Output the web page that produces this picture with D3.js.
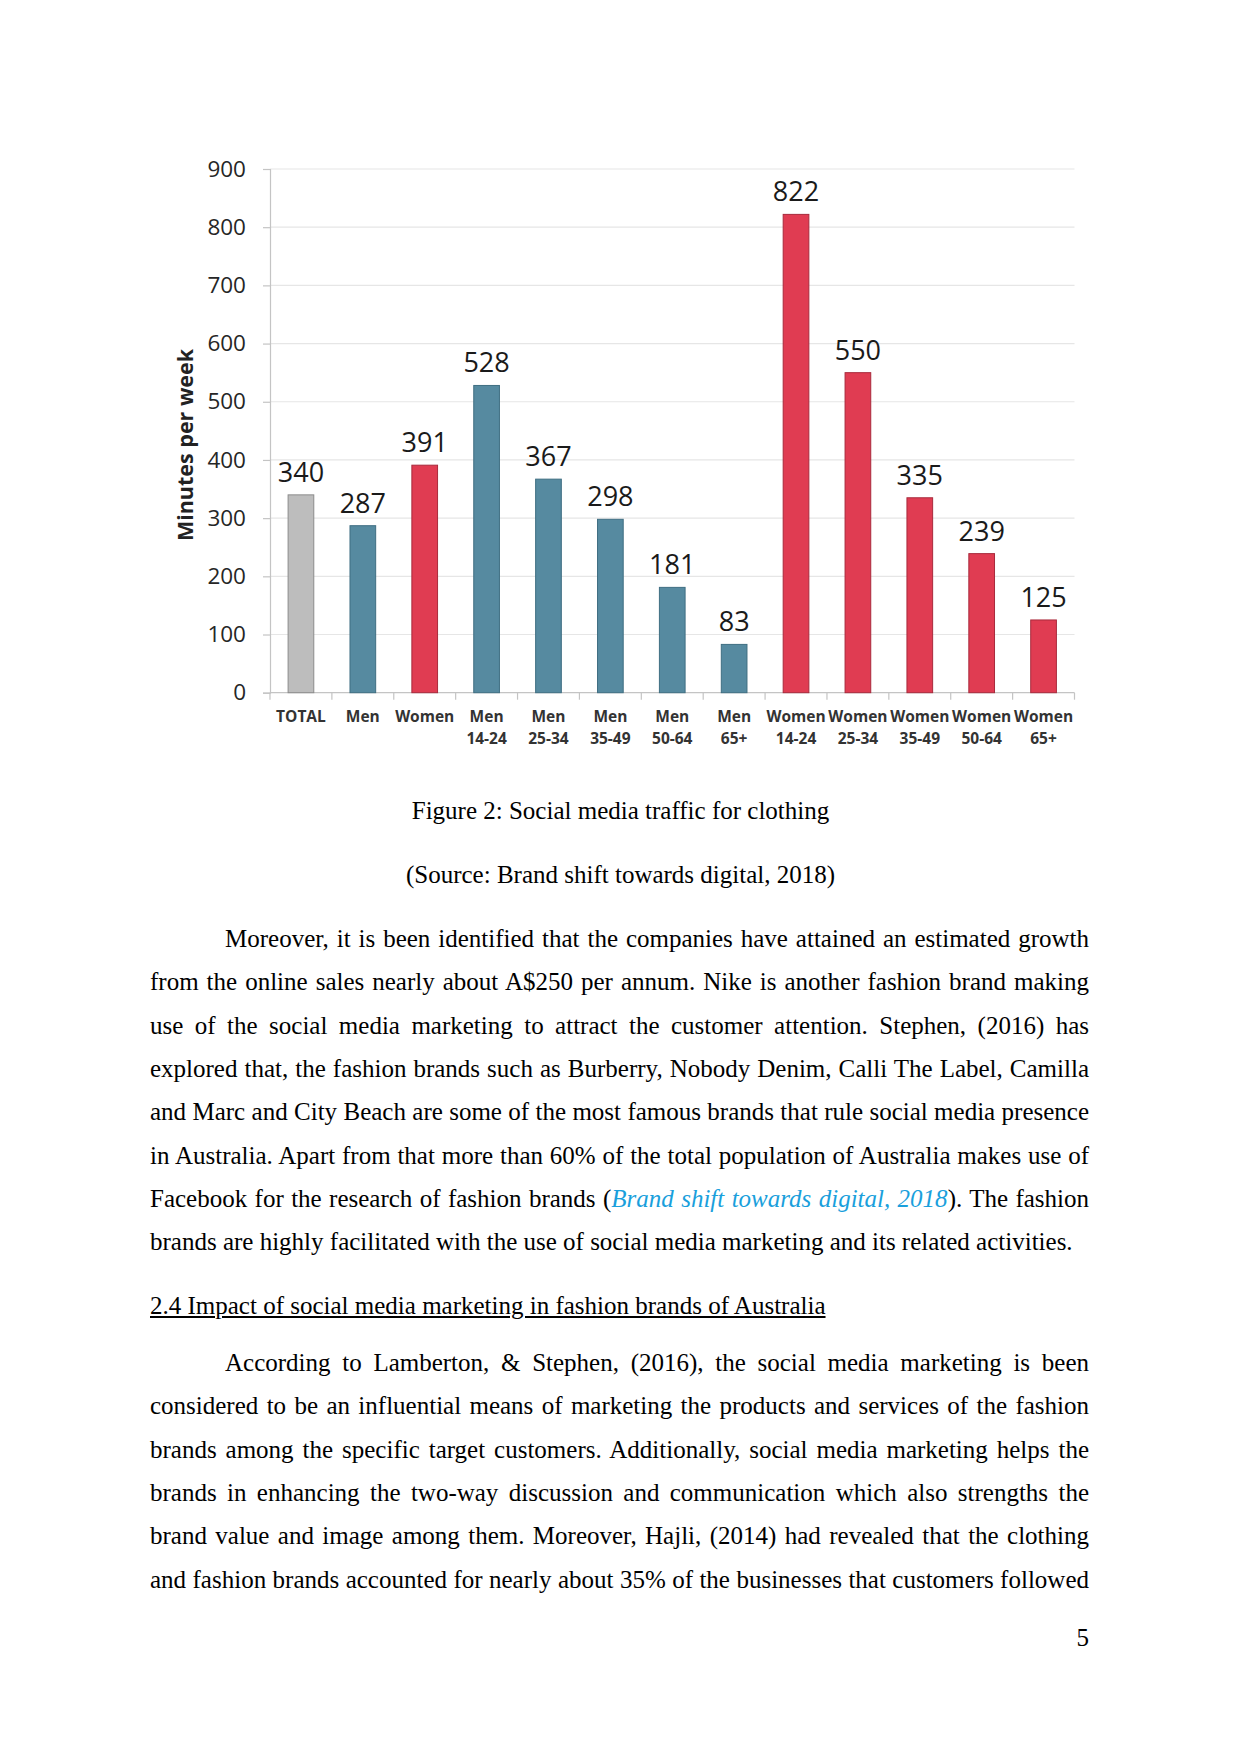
<!DOCTYPE html>
<html>
<head>
<meta charset="utf-8">
<script src="https://cdn.jsdelivr.net/npm/d3@7/dist/d3.min.js"></script>
<style>
  html, body { margin:0; padding:0; background:#fff; }
  body { width:1241px; height:1754px; position:relative; overflow:hidden; }
  .t { position:absolute; font-family:"Liberation Serif","Times New Roman",serif; font-size:25px; line-height:30px; color:#000; white-space:nowrap; }
  .j { left:150px; width:939px; text-align:justify; text-align-last:justify; white-space:normal; }
  .link { color:#1a9fdc; font-style:italic; }
  svg { position:absolute; left:0; top:0; }
</style>
</head>
<body>
<svg id="chart" width="1241" height="780"></svg>
<div id="text"></div>
<script>
const labelsLine1 = ["TOTAL","Men","Women","Men","Men","Men","Men","Men","Women","Women","Women","Women","Women"];
const labelsLine2 = ["","","","14-24","25-34","35-49","50-64","65+","14-24","25-34","35-49","50-64","65+"];
const values = [340,287,391,528,367,298,181,83,822,550,335,239,125];
const groups = ["total","men","women","men","men","men","men","men","women","women","women","women","women"];
const yTicks = [0,100,200,300,400,500,600,700,800,900];
const yTitle = "Minutes per week";

const colorMap = { total:"#bdbdbd", men:"#568aa0", women:"#e03c52" };
const strokeMap = { total:"#8c8c8c", men:"#3f6e82", women:"#a82a3c" };

const svg = d3.select("#chart");
const x0 = 270, x1 = 1074.5, yTop = 169, yBot = 692.7;
const keys = values.map((d,i)=>i);
const x = d3.scaleBand().domain(keys).range([x0,x1]).paddingInner(0.585).paddingOuter(0.2925);
const y = d3.scaleLinear().domain([0,900]).range([yBot,yTop]);

// gridlines
svg.append("g").selectAll("line").data(yTicks.filter(d=>d>0)).join("line")
  .attr("x1",x0).attr("x2",x1).attr("y1",d=>y(d)).attr("y2",d=>y(d))
  .attr("stroke","#e6e6e6").attr("stroke-width",1.2);

// y axis
const yAxis = svg.append("g").attr("transform",`translate(${x0},0)`)
  .call(d3.axisLeft(y).tickValues(yTicks).tickSize(7).tickPadding(17));
yAxis.select(".domain").attr("stroke","#c4c4c4").attr("stroke-width",1.2);
yAxis.selectAll(".tick line").attr("stroke","#c4c4c4").attr("stroke-width",1.2);
yAxis.selectAll(".tick text").attr("font-family","'Open Sans',sans-serif").attr("font-size",22.5).attr("fill","#262626");

// x axis baseline + ticks between categories
const xg = svg.append("g");
xg.append("line").attr("x1",x0).attr("x2",x1).attr("y1",yBot).attr("y2",yBot).attr("stroke","#c4c4c4").attr("stroke-width",1.2);
const step = x.step();
xg.selectAll("line.tk").data(d3.range(values.length+1)).join("line").attr("class","tk")
  .attr("x1",d=>x0+d*step).attr("x2",d=>x0+d*step).attr("y1",yBot).attr("y2",yBot+7)
  .attr("stroke","#c4c4c4").attr("stroke-width",1.2);

// bars
svg.append("g").selectAll("rect").data(keys).join("rect")
  .attr("x",i=>x(i)).attr("width",x.bandwidth())
  .attr("y",i=>y(values[i])).attr("height",i=>yBot-y(values[i]))
  .attr("fill",i=>colorMap[groups[i]]).attr("stroke",i=>strokeMap[groups[i]]).attr("stroke-width",1);

// value labels
svg.append("g").selectAll("text").data(keys).join("text")
  .attr("x",i=>x(i)+x.bandwidth()/2).attr("y",i=>y(values[i])-13)
  .attr("text-anchor","middle").attr("font-family","'Open Sans',sans-serif").attr("font-size",27).attr("fill","#1a1a1a")
  .text(i=>values[i]);

// x labels
const xl = svg.append("g").selectAll("g").data(keys).join("g")
  .attr("transform",i=>`translate(${x(i)+x.bandwidth()/2},0)`);
xl.append("text").attr("y",722).attr("text-anchor","middle").attr("font-family","'Open Sans',sans-serif")
  .attr("font-weight","bold").attr("font-size",15.5).attr("fill","#333").text(i=>labelsLine1[i]);
xl.append("text").attr("y",744).attr("text-anchor","middle").attr("font-family","'Open Sans',sans-serif")
  .attr("font-weight","bold").attr("font-size",15.5).attr("fill","#333").text(i=>labelsLine2[i]);

// y title
svg.append("text").attr("transform","translate(193,445) rotate(-90)").attr("text-anchor","middle")
  .attr("font-family","'Open Sans',sans-serif").attr("font-weight","bold").attr("font-size",21.5).attr("fill","#222")
  .text(yTitle);

// page text
const tx = d3.select("#text");
function centered(txt, cy){ tx.append("div").attr("class","t").style("left","0px").style("width","1241px").style("text-align","center").style("top",(cy-15)+"px").text(txt); }
centered("Figure 2: Social media traffic for clothing", 811);
centered("(Source: Brand shift towards digital, 2018)", 875);

const para1 = [
 "Moreover, it is been identified that the companies have attained an estimated growth",
 "from the online sales nearly about A$250 per annum. Nike is another fashion brand making",
 "use of the social media marketing to attract the customer attention. Stephen, (2016) has",
 "explored that, the fashion brands such as Burberry, Nobody Denim, Calli The Label, Camilla",
 "and Marc and City Beach are some of the most famous brands that rule social media presence",
 "in Australia. Apart from that more than 60% of the total population of Australia makes use of",
 "LINK",
 "brands are highly facilitated with the use of social media marketing and its related activities."
];
const para2 = [
 "According to Lamberton, & Stephen, (2016), the social media marketing is been",
 "considered to be an influential means of marketing the products and services of the fashion",
 "brands among the specific target customers. Additionally, social media marketing helps the",
 "brands in enhancing the two-way discussion and communication which also strengths the",
 "brand value and image among them. Moreover, Hajli, (2014) had revealed that the clothing",
 "and fashion brands accounted for nearly about 35% of the businesses that customers followed"
];
const lh = 43.3;
function para(lines, cy0, lastJust){
  lines.forEach((l,i)=>{
    const d = tx.append("div").attr("class","t j").style("top",(cy0+i*lh-15)+"px");
    if(i===0){ d.style("left","225px").style("width","864px"); }
    if(i===lines.length-1 && !lastJust){ d.style("text-align-last","left"); }
    if(l==="LINK"){
      d.html('Facebook for the research of fashion brands (<span class="link">Brand shift towards digital, 2018</span>). The fashion');
    } else d.text(l);
  });
}
para(para1, 939, false);
tx.append("div").attr("class","t").style("left","150px").style("top",(1306-15)+"px").style("text-decoration","underline")
  .text("2.4 Impact of social media marketing in fashion brands of Australia");
para(para2, 1363, true);
tx.append("div").attr("class","t").style("left","1000px").style("width","89px").style("text-align","right").style("top",(1638-15)+"px").text("5");
</script>
</body>
</html>
